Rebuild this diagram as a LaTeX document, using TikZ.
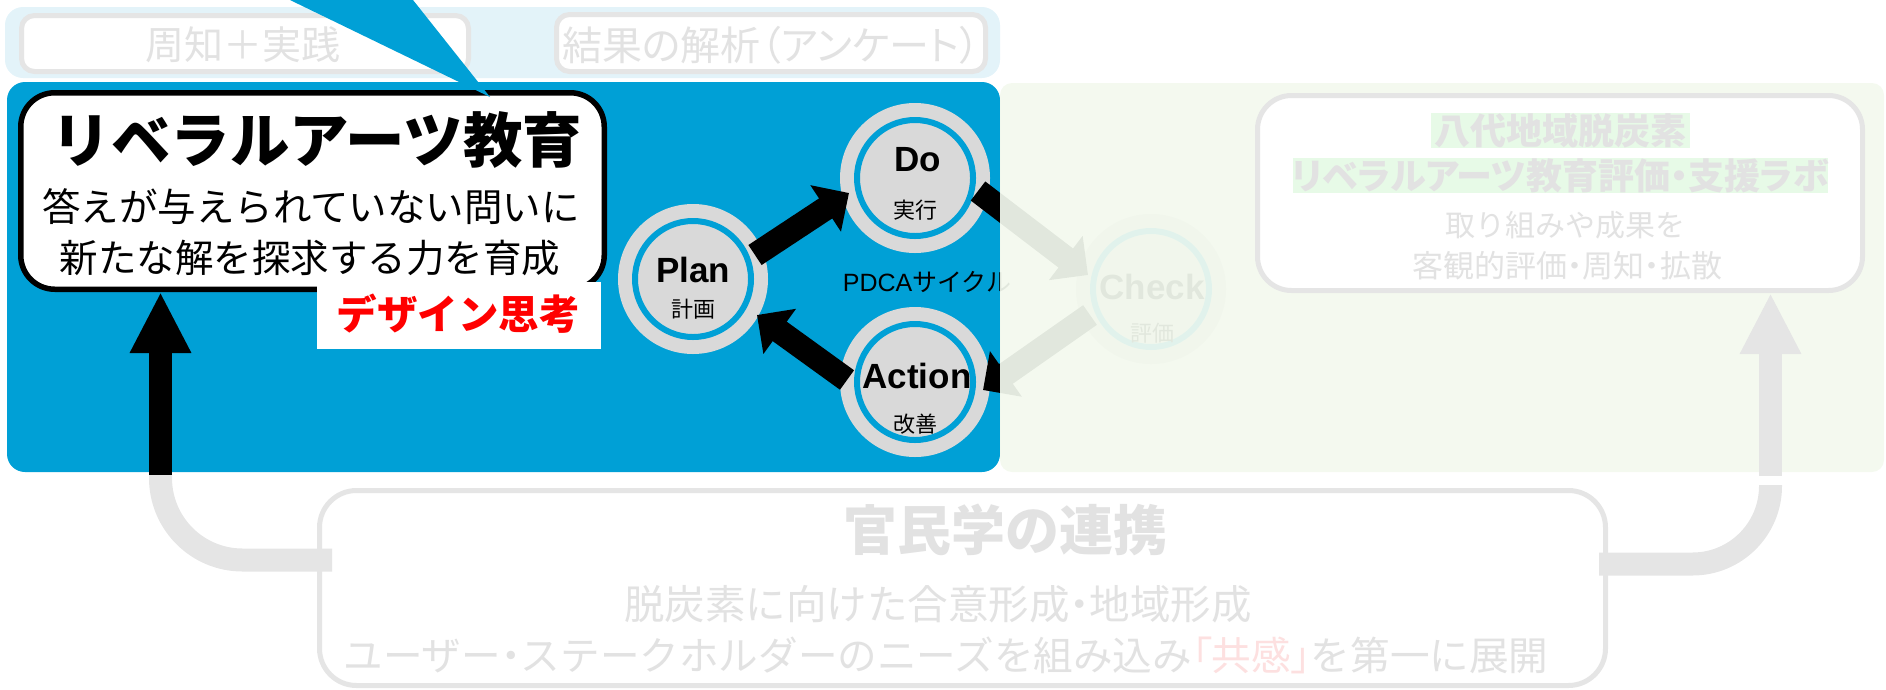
\documentclass[tikz,border=0pt]{standalone}
\usepackage{fontspec}
\setmainfont{Liberation Sans}
\newfontfamily\jp{Noto Sans CJK JP}
\newfontfamily\jpp{Noto Sans CJK JP}[RawFeature=+palt]
\usetikzlibrary{arrows.meta,calc}
\definecolor{pblue}{RGB}{0,160,214}
\definecolor{stripblue}{RGB}{227,243,249}
\definecolor{fadegray}{RGB}{229,229,229}
\definecolor{fadetext}{RGB}{226,226,226}
\definecolor{circgray}{RGB}{217,217,217}
\definecolor{panelgreen}{RGB}{243,249,238}
\definecolor{hlgreen}{RGB}{231,250,231}
\definecolor{fadered}{RGB}{253,224,224}
\newcommand{\fs}[1]{\fontsize{#1pt}{#1pt}\selectfont}
\begin{document}
\begin{tikzpicture}[x=1pt,y=-1pt,
  txt/.style={inner sep=0pt,outer sep=0pt},
  lightbox/.style={draw=fadegray,line width=5pt,fill=white,rounded corners=13pt,inner sep=0pt},
  bigbox/.style={draw=fadegray,line width=5pt,fill=white,rounded corners=34pt,inner sep=0pt},
  halo/.style={circle,fill=circgray,minimum size=150pt,inner sep=0pt},
  ring/.style={draw=pblue,line width=6pt},
  pdcaarrow/.style={line width=24pt,-{Triangle[length=28pt,width=54pt]}},
  bigarrow/.style={line width=23pt,-{Triangle[length=61pt,width=57pt]}},
  band/.style={draw=fadegray,line width=23pt},
]
\useasboundingbox (0,0) rectangle (1886,689);

% top strip
\fill[stripblue,rounded corners=18pt] (5,7) rectangle (1000,78);
\node[lightbox,minimum width=447pt,minimum height=56pt] (b1) at (245,43.5) {};
\node[txt,text=fadetext,font=\jp\fs{39}] (b1t) at (243,45) {周知＋実践};
\node[lightbox,minimum width=429pt,minimum height=57pt] (b2) at (771,43) {};
\node[txt,text=fadetext,font=\jpp\fs{40}] (b2t) at (771,45) {結果の解析（アンケート）};

% blue panel
\fill[pblue,rounded corners=18pt] (7,82) rectangle (1000,472);

% callout
\node[draw=black,line width=5.5pt,fill=white,rounded corners=34pt,minimum width=583.5pt,minimum height=196.5pt,inner sep=0pt] (callout) at (312.5,191) {};
\node[txt,font=\jp\bfseries\fs{59.5}] (title) at (317,140) {リベラルアーツ教育};
\node[txt,font=\jp\fs{38.5}] (l1) at (311,207) {答えが与えられていない問いに};
\node[txt,font=\jp\fs{38.5}] (l2) at (310,258) {新たな解を探求する力を育成};
\node[fill=white,minimum width=284pt,minimum height=67pt,inner sep=0pt] (dbox) at (459,315.5) {};
\node[txt,text=red,font=\jp\bfseries\fs{40.5}] (dt) at (458,314) {デザイン思考};

% black up arrow
\coordinate (la0) at (160.5,475);
\draw[bigarrow,black] (la0) -- (la0 |- callout.south);

% PDCA circles
\coordinate (P) at (693,279);
\coordinate (D) at (915,178);
\coordinate (A) at (915,382);
\coordinate (C) at (1151,289);
\foreach \n/\c in {plan/P,do/D,act/A,chk/C}{
  \node[halo] (\n) at (\c) {};
  \draw[ring] (\c) circle[radius=58];
}
\node[txt,font=\bfseries\fs{35}] (plant) at (693,270) {Plan};
\node[txt,font=\jp\fs{22}] (plans) at (693,309) {計画};
\node[txt,font=\bfseries\fs{35}] (dot) at (918,160) {Do};
\node[txt,font=\jp\fs{22}] (dos) at (915,210) {実行};
\node[txt,font=\bfseries\fs{35}] (actt) at (917,376) {Action};
\node[txt,font=\jp\fs{22}] (acts) at (915,424) {改善};
\node[txt,font=\bfseries\fs{35}] (chkt) at (1152,287) {Check};
\node[txt,font=\jp\fs{22}] (chks) at (1152,333) {評価};

% PDCA arrows
\coordinate (pd-a) at (755,255);  \coordinate (pd-b) at (849,193);
\coordinate (dc-a) at (978,191);  \coordinate (dc-b) at (1088,275);
\coordinate (ca-a) at (1090,315); \coordinate (ca-b) at (983,390);
\coordinate (ap-a) at (847,380);  \coordinate (ap-b) at (757,315);
\draw[pdcaarrow] (pd-a) -- (pd-b);
\draw[pdcaarrow] (dc-a) -- (dc-b);
\draw[pdcaarrow] (ca-a) -- (ca-b);
\draw[pdcaarrow] (ap-a) -- (ap-b);
\node[txt,font=\fs{25}] (pdca) at (927,282) {PDCA{\jp サイクル}};

% faded green panel
\fill[panelgreen,opacity=0.93,rounded corners=12pt] (1000,83) rectangle (1884,472);

% right box
\node[bigbox,minimum width=605pt,minimum height=195pt] (rbox) at (1560,193) {};
\fill[hlgreen] (1431,113) rectangle (1690,148);
\fill[hlgreen] (1293,158) rectangle (1828,193);
\node[txt,text=fadetext,font=\jp\bfseries\fs{36}] (r1) at (1560,131) {八代地域脱炭素};
\node[txt,text=fadetext,font=\jpp\bfseries\fs{36}] (r2) at (1560,176) {リベラルアーツ教育評価・支援ラボ};
\node[txt,text=fadetext,font=\jp\fs{30}] (r3) at (1565,225) {取り組みや成果を};
\node[txt,text=fadetext,font=\jp\fs{31}] (r4) at (1567,266) {客観的評価{\jpp ・}周知{\jpp ・}拡散};

% right gray arrow
\coordinate (ra0) at (1770.5,476);
\draw[bigarrow,fadegray] (ra0) -- (ra0 |- rbox.south);

% bottom box
\node[bigbox,rounded corners=37pt,minimum width=1286pt,minimum height=195pt] (kbox) at (962.5,588) {};
\node[txt,text=fadetext,font=\jp\bfseries\fs{54}] (k1) at (1005,530) {官民学の連携};
\node[txt,text=fadetext,font=\jp\fs{40.5}] (k2) at (938,604) {脱炭素に向けた合意形成{\jpp ・}地域形成};
\node[txt,text=fadetext,font=\jp\fs{39.6}] (k3) at (946,655) {ユーザー{\jpp ・}ステークホルダーのニーズを組み込み{\jpp\color{fadered}「}{\color{fadered}共感}{\jpp\color{fadered}」}を第一に展開};

% gray bands
\coordinate (lb1) at (160.5,560); \coordinate (lb2) at (332,560);
\draw[band,rounded corners=82pt] (la0) -- (lb1) -- (lb2);
\coordinate (rb0) at (1599,564); \coordinate (rb1) at (1770.5,564); \coordinate (rb2) at (1770.5,485);
\draw[band,rounded corners=78pt] (rb0) -- (rb1) -- (rb2);

% blue callout tail
\fill[pblue] (290,0) -- (413,0) -- (490,97) -- cycle;
\end{tikzpicture}
\end{document}
